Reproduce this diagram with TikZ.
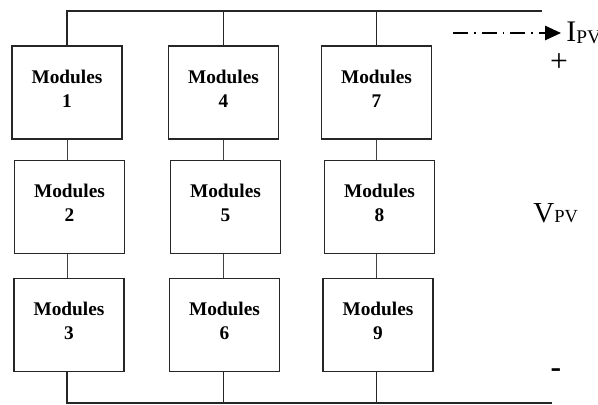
\documentclass[tikz,border=0pt]{standalone}
\usepackage{fontspec}
\setmainfont{Liberation Serif}
\usepackage{tikz}
\usetikzlibrary{positioning,arrows.meta,calc}
\tikzstyle{module}=[draw=black!85,line width=0.6pt,minimum width=2.2cm,minimum height=1.86cm,align=center,inner sep=0pt,text depth=4.5pt,font=\bfseries\fontsize{11}{13.6}\selectfont]
\tikzstyle{bus}=[draw=black!85,line width=0.75pt]
\tikzstyle{link}=[draw=black!75,line width=0.55pt]

\begin{document}
\begin{tikzpicture}[x=0.02cm, y=-0.02cm]
	\useasboundingbox (0,0) rectangle (598,405);
	\node[module] (m1) at (67,92.5) {Modules\\1};
	\node[module] (m2) at (69.5,207) {Modules\\2};
	\node[module] (m3) at (69,325) {Modules\\3};
	\node[module] (m4) at (223.5,92.5) {Modules\\4};
	\node[module] (m5) at (225.5,207) {Modules\\5};
	\node[module] (m6) at (224.5,325) {Modules\\6};
	\node[module] (m7) at (376.5,92.5) {Modules\\7};
	\node[module] (m8) at (379.5,207) {Modules\\8};
	\node[module] (m9) at (378,325) {Modules\\9};
	\coordinate (top) at (542,11);
	\coordinate (bot) at (552,403);
	\coordinate (ia) at (453,33);
	\coordinate (ib) at (561,33);
	\node[anchor=base west,inner sep=0pt,font=\fontsize{17}{17}\selectfont] (ipv) at (566,42) {I{\fontsize{11}{10}\selectfont\raisebox{-0.6pt}{PV}}};
	\node[font=\fontsize{18}{18}\selectfont,inner sep=0pt] (plus) at (559,63) {+};
	\node[anchor=base west,inner sep=0pt,font=\fontsize{16.5}{17}\selectfont] (vpv) at (533,222) {V{\fontsize{10.5}{10}\selectfont PV}};
	\node[font=\bfseries\fontsize{18}{18}\selectfont,inner sep=0pt] (minus) at (556,373) {-};
	% buses
	\draw[bus] (m1.north) |- (top);
	\draw[bus] (m4.north) -- (m4.north |- top);
	\draw[bus] (m7.north) -- (m7.north |- top);
	\draw[bus] (m3.south -| m1) |- (bot);
	\draw[bus] (m6.south -| m4) -- (m4 |- bot);
	\draw[bus] (m9.south -| m7) -- (m7 |- bot);
	% strings
	\draw[link] (m1.south) -- (m1.south |- m2.north);
	\draw[link] (m2.south -| m1) -- (m1 |- m3.north);
	\draw[link] (m4.south) -- (m4.south |- m5.north);
	\draw[link] (m5.south -| m4) -- (m4 |- m6.north);
	\draw[link] (m7.south) -- (m7.south |- m8.north);
	\draw[link] (m8.south -| m7) -- (m7 |- m9.north);
	% current arrow
	\draw[line width=1.2pt,dash pattern=on 8.5pt off 3.4pt on 1pt off 3.4pt,-{Triangle[length=9pt,width=8pt]}] (ia) -- (ib);
\end{tikzpicture}
\end{document}
